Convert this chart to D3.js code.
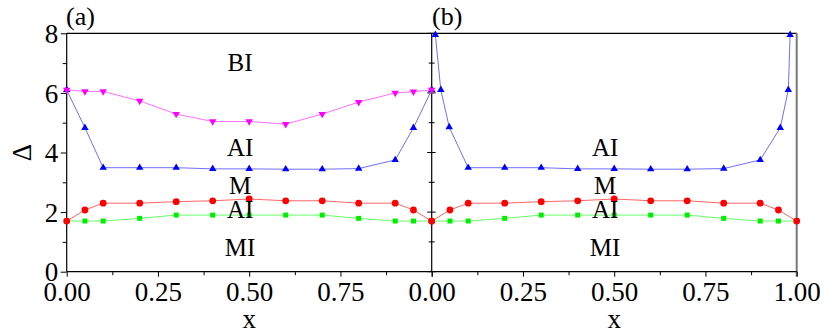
<!DOCTYPE html>
<html><head><meta charset="utf-8">
<script src="https://cdn.jsdelivr.net/npm/d3@7"></script>
<style>body{margin:0;background:#fff}svg{display:block}text{font-family:"Liberation Serif","Times New Roman",serif}</style>
</head><body><svg id="c" width="830" height="332"></svg>
<script>
// ---- data ----
const xA = [0, 0.05, 0.1, 0.2, 0.3, 0.4, 0.5, 0.6, 0.7, 0.8, 0.9, 0.95, 1.0];
const biA = [6.1, 6.05, 6.05, 5.73, 5.29, 5.04, 5.04, 4.95, 5.29, 5.69, 6.0, 6.04, 6.1];
const aiA = [6.1, 4.83, 3.49, 3.49, 3.49, 3.45, 3.45, 3.44, 3.44, 3.46, 3.75, 4.83, 6.1];
const mA  = [1.7, 2.07, 2.3, 2.3, 2.35, 2.38, 2.44, 2.38, 2.38, 2.3, 2.3, 2.07, 1.7];
const aiLowA = [1.7, 1.7, 1.7, 1.79, 1.9, 1.9, 1.9, 1.9, 1.9, 1.79, 1.7, 1.7, 1.7];
const xBlueB = [0.01, 0.025, 0.048, 0.1, 0.2, 0.3, 0.4, 0.5, 0.6, 0.7, 0.8, 0.9, 0.955, 0.977, 0.982];
const aiB = [7.95, 6.1, 4.85, 3.49, 3.49, 3.49, 3.45, 3.45, 3.44, 3.44, 3.46, 3.75, 4.83, 6.1, 7.95];
const xB = xA;
const mB = mA;
const aiLowB = aiLowA;
const xTicks = [0, 0.25, 0.5, 0.75, 1.0];
const xTickLabels = ["0.00", "0.25", "0.50", "0.75", "1.00"];
const yTicks = [0, 2, 4, 6, 8];
const regionLabels = [["BI", 7], ["AI", 4.17], ["M", 2.88], ["AI", 2.08], ["MI", 0.82]];
const regionLabelsB = [["AI", 4.17], ["M", 2.88], ["AI", 2.08], ["MI", 0.82]];

const svg = d3.select("#c");
const y = d3.scaleLinear().domain([0, 8]).range([271.7, 33.3]);
const xa = d3.scaleLinear().domain([0, 1]).range([66.7, 431.7]);
const xb = d3.scaleLinear().domain([0, 1]).range([431.7, 796.7]);

const FS = 27;
function panel(x, opts) {
  const g = svg.append("g");
  // frame top
  g.append("line").attr("x1", x(0)).attr("x2", x(1)).attr("y1", y(8)).attr("y2", y(8)).attr("stroke", "#000").attr("stroke-width", 1.2);
  if (opts.rightGray) {
    g.append("line").attr("x1", x(1)).attr("x2", x(1)).attr("y1", y(8)).attr("y2", y(0) + 5).attr("stroke", "#777").attr("stroke-width", 2);
  }
  // x minor ticks
  const minor = d3.range(0.125, 1, 0.25);
  g.append("g").attr("transform", `translate(0,${y(0)})`)
    .call(d3.axisBottom(x).tickValues(minor).tickSize(3.5).tickFormat(""))
    .call(a => a.select(".domain").remove());
  const xl = opts.xLabels;
  const ax = g.append("g").attr("transform", `translate(0,${y(0)})`)
    .call(d3.axisBottom(x).tickValues(xTicks).tickSize(5).tickPadding(5)
      .tickFormat((d, i) => xl[i]));
  ax.select(".domain").attr("stroke-width", 1.2).attr("d", `M${x(0)},0H${x(1)}`);
  ax.selectAll("text").attr("font-size", FS).attr("font-family", "Liberation Serif").attr("fill", "#000");
  // y axis
  const yMinor = [1, 3, 5, 7];
  if (opts.yOut) {
    g.append("g").attr("transform", `translate(${x(0)},0)`)
      .call(d3.axisLeft(y).tickValues(yMinor).tickSize(4).tickFormat(""))
      .call(a => a.select(".domain").remove());
    const ay = g.append("g").attr("transform", `translate(${x(0)},0)`)
      .call(d3.axisLeft(y).tickValues(yTicks).tickSize(6).tickPadding(2.5));
    ay.select(".domain").attr("stroke-width", 1.2).attr("d", `M0,${y(0)}V${y(8)}`);
    ay.selectAll("text").attr("font-size", FS).attr("font-family", "Liberation Serif").attr("fill", "#000").attr("dy", "0.34em");
  } else {
    const ay = g.append("g").attr("transform", `translate(${x(0)},0)`);
    ay.append("line").attr("y1", y(0)).attr("y2", y(8)).attr("stroke", "#000").attr("stroke-width", 1.2);
    ay.selectAll(".mj").data(yTicks).join("line").attr("x1", -4.5).attr("x2", 4).attr("y1", d => y(d)).attr("y2", d => y(d)).attr("stroke", "#000");
    ay.selectAll(".mn").data(yMinor).join("line").attr("x1", -3).attr("x2", 3).attr("y1", d => y(d)).attr("y2", d => y(d)).attr("stroke", "#000");
  }
}

function series(x, xs, ys, lineColor, color, shape) {
  const pts = xs.map((d, i) => [d, ys[i]]);
  svg.append("path").datum(pts)
    .attr("d", d3.line().x(d => x(d[0])).y(d => y(d[1])))
    .attr("fill", "none").attr("stroke", lineColor).attr("stroke-width", 1);
  const g = svg.append("g");
  pts.forEach(p => {
    const cx = x(p[0]), cy = y(p[1]);
    if (shape === "circle") {
      g.append("circle").attr("cx", cx).attr("cy", cy).attr("r", 3.4).attr("fill", color);
    } else if (shape === "square") {
      g.append("rect").attr("x", cx - 2.5).attr("y", cy - 2.5).attr("width", 5).attr("height", 5).attr("fill", color);
    } else {
      const sym = d3.symbol().type(d3.symbolTriangle).size(24)();
      g.append("path").attr("d", sym).attr("fill", color)
        .attr("transform", `translate(${cx},${cy})` + (shape === "down" ? " rotate(180)" : ""));
    }
  });
}

panel(xa, { yOut: true, xLabels: ["0.00", "0.25", "0.50", "0.75", ""] });
panel(xb, { yOut: false, rightGray: true, xLabels: xTickLabels });

// panel a series
series(xa, xA, aiLowA, "#66ff66", "#00ee00", "square");
series(xa, xA, mA, "#ff6666", "#ff0000", "circle");
series(xa, xA, aiA, "#6f6fff", "#0000ff", "up");
series(xa, xA, biA, "#ff70ff", "#ff00ff", "down");
// panel b series
series(xb, xB, aiLowB, "#66ff66", "#00ee00", "square");
series(xb, xB, mB, "#ff6666", "#ff0000", "circle");
series(xb, xBlueB, aiB, "#6f6fff", "#0000ff", "up");

// region labels
const LX = 0.475;
regionLabels.forEach(([t, v]) => {
  svg.append("text").attr("x", xa(LX)).attr("y", y(v)).attr("dy", "0.33em").attr("text-anchor", "middle")
    .attr("font-size", 25).text(t);
});
regionLabelsB.forEach(([t, v]) => {
  svg.append("text").attr("x", xb(LX)).attr("y", y(v)).attr("dy", "0.33em").attr("text-anchor", "middle")
    .attr("font-size", 25).text(t);
});

// panel tags
svg.append("text").attr("x", 66).attr("y", 25).attr("font-size", 26).text("(a)");
svg.append("text").attr("x", 432).attr("y", 25).attr("font-size", 26).text("(b)");

// axis titles
svg.append("text").attr("x", xa(0.5)).attr("y", 328).attr("text-anchor", "middle").attr("font-size", FS).text("x");
svg.append("text").attr("x", xb(0.5)).attr("y", 328).attr("text-anchor", "middle").attr("font-size", FS).text("x");
svg.append("text").attr("transform", `translate(22,${y(4)}) rotate(-90)`).attr("text-anchor", "middle").attr("dy", "0.35em")
  .attr("font-size", FS).text("Δ");
</script></body></html>
